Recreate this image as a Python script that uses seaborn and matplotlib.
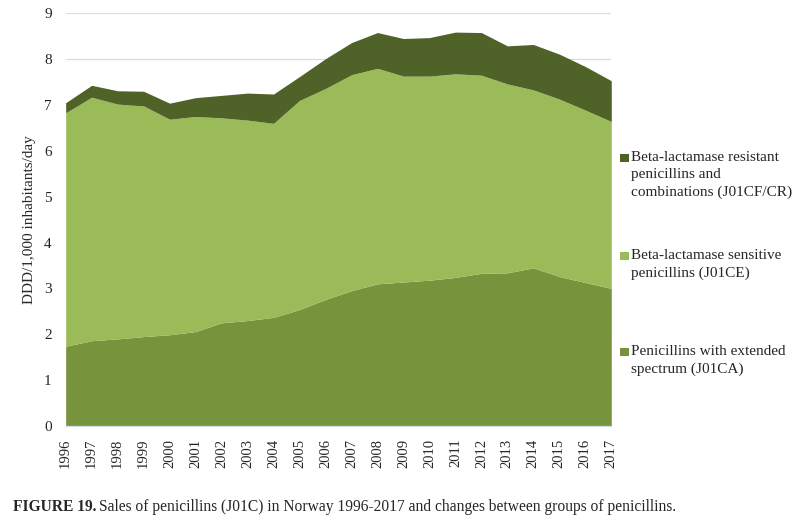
import numpy as np
import pandas as pd
import seaborn as sns
import matplotlib.pyplot as plt
from matplotlib.patches import Rectangle

sns.set_theme(style="white")
plt.rcParams['font.family'] = ['Liberation Serif', 'DejaVu Serif']

years = list(range(1996, 2018))

# DDD/1,000 inhabitants/day per group
extended = [1.74, 1.86, 1.90, 1.95, 1.99, 2.06, 2.25, 2.30, 2.37, 2.54, 2.76,
            2.95, 3.10, 3.14, 3.18, 3.24, 3.33, 3.34, 3.45, 3.26, 3.13, 3.00]
sensitive_top = [6.83, 7.17, 7.02, 6.98, 6.69, 6.75, 6.72, 6.67, 6.60, 7.10, 7.36,
                 7.66, 7.80, 7.63, 7.63, 7.68, 7.65, 7.46, 7.33, 7.13, 6.89, 6.64]
total = [7.05, 7.43, 7.31, 7.30, 7.04, 7.16, 7.21, 7.26, 7.24, 7.62, 8.01,
         8.36, 8.58, 8.45, 8.47, 8.59, 8.58, 8.29, 8.32, 8.11, 7.84, 7.53]

df = pd.DataFrame({"Year": years, "Extended": extended,
                   "SensTop": sensitive_top, "Total": total})
df["Sensitive"] = df["SensTop"] - df["Extended"]
df["Resistant"] = df["Total"] - df["SensTop"]

labels = ["Penicillins with extended\nspectrum (J01CA)",
          "Beta-lactamase sensitive\npenicillins (J01CE)",
          "Beta-lactamase resistant\npenicillins and\ncombinations (J01CF/CR)"]
colors = ["#77933C", "#9BBB59", "#4F6228"]

fig = plt.figure(figsize=(8.0, 5.21), dpi=100)
ax = fig.add_axes([0.0821, 0.1823, 0.682, 0.7922])

ax.stackplot(df["Year"], df["Extended"], df["Sensitive"], df["Resistant"],
             colors=colors, linewidth=0, zorder=2)

ax.set_xlim(1996, 2017)
ax.set_ylim(0, 9)
ax.set_yticks(range(0, 10))
ax.set_xticks(years)
ax.set_xticklabels([str(y) for y in years], rotation=90, fontsize=10.5)
ax.tick_params(axis="y", labelsize=11, pad=10, length=0)
ax.tick_params(axis="x", pad=5, length=4, width=0.8, color="#d3dce8", direction="out")
ax.yaxis.grid(True, color="#d3deec", linewidth=0.9, zorder=0)
ax.set_axisbelow(True)
for side in ["top", "right", "left"]:
    ax.spines[side].set_visible(False)
ax.spines["bottom"].set_color("#d3deec")
ax.spines["bottom"].set_linewidth(0.9)
ax.set_ylabel("DDD/1,000 inhabitants/day", fontsize=11, labelpad=6)

# legend, laid out to the right of the plot
entries = [(labels[2], colors[2], 158), (labels[1], colors[1], 256), (labels[0], colors[0], 352)]
for text, col, ypix in entries:
    fig.patches.append(Rectangle((620 / 800, 1 - (ypix + 4) / 521), 8.5 / 800, 8.5 / 521,
                                 transform=fig.transFigure, facecolor=col, edgecolor="none"))
    fig.text(631 / 800, 1 - (ypix - 7) / 521, text, fontsize=11, va="top", ha="left",
             linespacing=1.42)

# caption: bold figure number followed by plain text
cap_y = 1 - 507 / 521
bold = fig.text(13 / 800, cap_y, "FIGURE 19.", fontsize=11.2, fontweight="bold",
                va="center", ha="left")
fig.canvas.draw()
bb = bold.get_window_extent().transformed(fig.transFigure.inverted())
fig.text(bb.x1 + 3 / 800, cap_y,
         "Sales of penicillins (J01C) in Norway 1996-2017 and changes between groups of penicillins.",
         fontsize=11.2, va="center", ha="left")

fig.savefig("out.png", dpi=100)
